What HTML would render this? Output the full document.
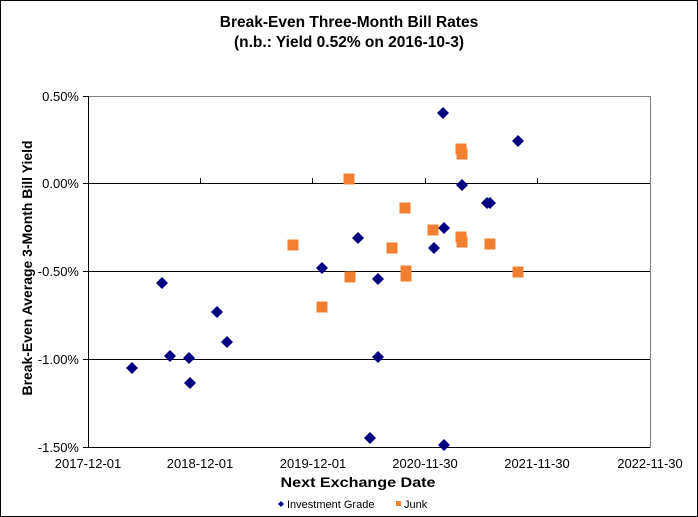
<!DOCTYPE html>
<html><head><style>
body{margin:0;background:#fff;}
svg{display:block;font-family:"Liberation Sans",Arial,sans-serif;}
</style></head><body>
<svg width="698" height="517" viewBox="0 0 698 517">
<rect x="0.5" y="0.5" width="697" height="516" fill="#fff" stroke="#000"/>
<text x="349" y="27" text-anchor="middle" font-size="15.5" font-weight="bold">Break-Even Three-Month Bill Rates</text>
<text x="349" y="47" text-anchor="middle" font-size="15.5" font-weight="bold">(n.b.: Yield 0.52% on 2016-10-3)</text>
<g stroke="#000" stroke-width="1">
<line x1="88" y1="96.5" x2="650" y2="96.5" stroke="#808080"/>
<line x1="88" y1="183.5" x2="650" y2="183.5"/>
<line x1="88" y1="271.5" x2="650" y2="271.5"/>
<line x1="88" y1="359.5" x2="650" y2="359.5"/>
<line x1="88" y1="447.5" x2="650" y2="447.5"/>
<line x1="650.5" y1="96" x2="650.5" y2="448" stroke="#808080"/>
<line x1="88.5" y1="96" x2="88.5" y2="448"/>
<line x1="83" y1="96.5" x2="88" y2="96.5"/><line x1="83" y1="183.5" x2="88" y2="183.5"/><line x1="83" y1="271.5" x2="88" y2="271.5"/><line x1="83" y1="359.5" x2="88" y2="359.5"/><line x1="83" y1="447.5" x2="88" y2="447.5"/>
<line x1="200.5" y1="178" x2="200.5" y2="183"/><line x1="312.5" y1="178" x2="312.5" y2="183"/><line x1="425.5" y1="178" x2="425.5" y2="183"/><line x1="537.5" y1="178" x2="537.5" y2="183"/>
</g>
<g font-size="13" text-anchor="end">
<text x="79" y="101">0.50%</text><text x="79" y="188">0.00%</text><text x="79" y="276">-0.50%</text><text x="79" y="364">-1.00%</text><text x="79" y="452">-1.50%</text>
</g>
<g font-size="13" text-anchor="middle">
<text x="88" y="468">2017-12-01</text><text x="200" y="468">2018-12-01</text><text x="313" y="468">2019-12-01</text><text x="425" y="468">2020-11-30</text><text x="537" y="468">2021-11-30</text><text x="650" y="468">2022-11-30</text>
</g>
<text x="358" y="487" text-anchor="middle" font-size="14" font-weight="bold" textLength="155" lengthAdjust="spacingAndGlyphs">Next Exchange Date</text>
<text transform="translate(32,268) rotate(-90)" text-anchor="middle" font-size="13.5" font-weight="bold" textLength="255" lengthAdjust="spacingAndGlyphs">Break-Even Average 3-Month Bill Yield</text>
<g fill="#000080">
<path d="M0,-6 L6,0 L0,6 L-6,0Z" transform="translate(132,368)"/>
<path d="M0,-6 L6,0 L0,6 L-6,0Z" transform="translate(162,283)"/>
<path d="M0,-6 L6,0 L0,6 L-6,0Z" transform="translate(170,356)"/>
<path d="M0,-6 L6,0 L0,6 L-6,0Z" transform="translate(189,358)"/>
<path d="M0,-6 L6,0 L0,6 L-6,0Z" transform="translate(190,383)"/>
<path d="M0,-6 L6,0 L0,6 L-6,0Z" transform="translate(217,312)"/>
<path d="M0,-6 L6,0 L0,6 L-6,0Z" transform="translate(227,342)"/>
<path d="M0,-6 L6,0 L0,6 L-6,0Z" transform="translate(322,268)"/>
<path d="M0,-6 L6,0 L0,6 L-6,0Z" transform="translate(358,238)"/>
<path d="M0,-6 L6,0 L0,6 L-6,0Z" transform="translate(370,438)"/>
<path d="M0,-6 L6,0 L0,6 L-6,0Z" transform="translate(378,279)"/>
<path d="M0,-6 L6,0 L0,6 L-6,0Z" transform="translate(378,357)"/>
<path d="M0,-6 L6,0 L0,6 L-6,0Z" transform="translate(434,248)"/>
<path d="M0,-6 L6,0 L0,6 L-6,0Z" transform="translate(443,113)"/>
<path d="M0,-6 L6,0 L0,6 L-6,0Z" transform="translate(444,228)"/>
<path d="M0,-6 L6,0 L0,6 L-6,0Z" transform="translate(444,445)"/>
<path d="M0,-6 L6,0 L0,6 L-6,0Z" transform="translate(462,185)"/>
<path d="M0,-6 L6,0 L0,6 L-6,0Z" transform="translate(487,203)"/>
<path d="M0,-6 L6,0 L0,6 L-6,0Z" transform="translate(490,203)"/>
<path d="M0,-6 L6,0 L0,6 L-6,0Z" transform="translate(518,141)"/>
<path d="M0,-3 L3,0 L0,3 L-3,0Z" transform="translate(281,504)"/>
</g>
<g fill="#F08030">
<rect x="287.5" y="239.5" width="11" height="11"/>
<rect x="316.5" y="301.5" width="11" height="11"/>
<rect x="343.5" y="173.5" width="11" height="11"/>
<rect x="344.5" y="271.5" width="11" height="11"/>
<rect x="386.5" y="242.5" width="11" height="11"/>
<rect x="399.5" y="202.5" width="11" height="11"/>
<rect x="400.5" y="265.5" width="11" height="11"/>
<rect x="400.5" y="270.5" width="11" height="11"/>
<rect x="427.5" y="224.5" width="11" height="11"/>
<rect x="455.5" y="143.5" width="11" height="11"/>
<rect x="456.5" y="148.5" width="11" height="11"/>
<rect x="455.5" y="231.5" width="11" height="11"/>
<rect x="456.5" y="236.5" width="11" height="11"/>
<rect x="484.5" y="238.5" width="11" height="11"/>
<rect x="512.5" y="266.5" width="11" height="11"/>
<rect x="396" y="501" width="5" height="5"/>
</g>
<text x="287" y="508" font-size="11">Investment Grade</text>
<text x="404" y="508" font-size="11">Junk</text>
</svg>
</body></html>
